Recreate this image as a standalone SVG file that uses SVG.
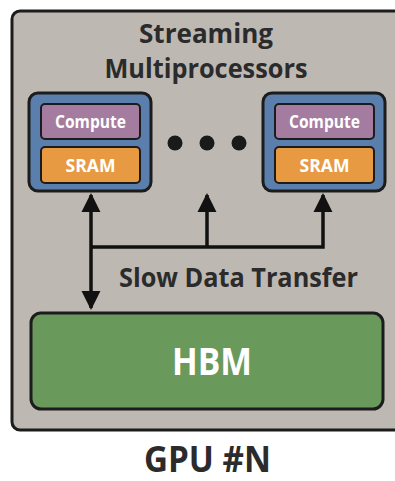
<svg xmlns="http://www.w3.org/2000/svg" width="395" height="481" viewBox="0 0 395 481">
<style>
.t{font-family:"Open Sans","Noto Sans",sans-serif;font-weight:700;text-anchor:middle}
.dark{fill:#2b2b2b}
.w{fill:#ffffff}
.sm{fill:#5b7fad;stroke:#1c1c1c;stroke-width:3}
.cmp{fill:#a47ca0;stroke:#1c1c1c;stroke-width:2}
.sram{fill:#e89a42;stroke:#1c1c1c;stroke-width:2}
.ln{stroke:#111;stroke-width:3.5;fill:none}
</style>
<defs>
<marker id="ah" viewBox="0 0 10 10" refX="9" refY="5" markerWidth="5.5" markerHeight="5.5" orient="auto" markerUnits="strokeWidth">
<path d="M0,0 L10,5 L0,10 Z" fill="#111"/>
</marker>
</defs>
<rect width="395" height="481" fill="#ffffff"/>
<g id="gpu">
<rect x="12" y="11" width="400" height="419" rx="8" fill="#bdb8b2" stroke="#1c1c1c" stroke-width="3"/>
<text class="t dark" x="206" y="43" font-size="26.5" textLength="134" lengthAdjust="spacingAndGlyphs">Streaming</text>
<text class="t dark" x="206" y="78" font-size="26.5" textLength="203" lengthAdjust="spacingAndGlyphs">Multiprocessors</text>
</g>
<g id="sm1">
<rect class="sm" x="29" y="93" width="122" height="98" rx="9"/>
<rect class="cmp" x="41" y="104" width="99" height="35" rx="4"/>
<text class="t w" x="90.5" y="127.5" font-size="18" textLength="71" lengthAdjust="spacingAndGlyphs">Compute</text>
<rect class="sram" x="41" y="147" width="99" height="36" rx="4"/>
<text class="t w" x="90.5" y="171.5" font-size="18" textLength="50" lengthAdjust="spacingAndGlyphs">SRAM</text>
</g>
<g id="dots" fill="#1a1a1a">
<circle cx="175" cy="143" r="7.5"/>
<circle cx="207" cy="143" r="7.5"/>
<circle cx="239" cy="143" r="7.5"/>
</g>
<g id="smN">
<rect class="sm" x="263" y="93" width="122" height="98" rx="9"/>
<rect class="cmp" x="275" y="104" width="99" height="35" rx="4"/>
<text class="t w" x="324.5" y="127.5" font-size="18" textLength="71" lengthAdjust="spacingAndGlyphs">Compute</text>
<rect class="sram" x="275" y="147" width="99" height="36" rx="4"/>
<text class="t w" x="324.5" y="171.5" font-size="18" textLength="50" lengthAdjust="spacingAndGlyphs">SRAM</text>
</g>
<g id="connectors">
<line class="ln" x1="91" y1="247" x2="91" y2="195" marker-end="url(#ah)"/>
<line class="ln" x1="91" y1="247" x2="91" y2="308" marker-end="url(#ah)"/>
<polyline class="ln" points="91,247 323,247 323,195" marker-end="url(#ah)"/>
<line class="ln" x1="207" y1="247" x2="207" y2="195" marker-end="url(#ah)"/>
<text class="t dark" x="238.5" y="287" font-size="27" textLength="239" lengthAdjust="spacingAndGlyphs">Slow Data Transfer</text>
</g>
<g id="hbm">
<rect x="31" y="313" width="352" height="96" rx="10" fill="#6a995c" stroke="#1c1c1c" stroke-width="3"/>
<text class="t w" x="212" y="375" font-size="37" textLength="80" lengthAdjust="spacingAndGlyphs">HBM</text>
</g>
<text class="t dark" x="207.5" y="472" font-size="35" textLength="127" lengthAdjust="spacingAndGlyphs">GPU #N</text>
</svg>
